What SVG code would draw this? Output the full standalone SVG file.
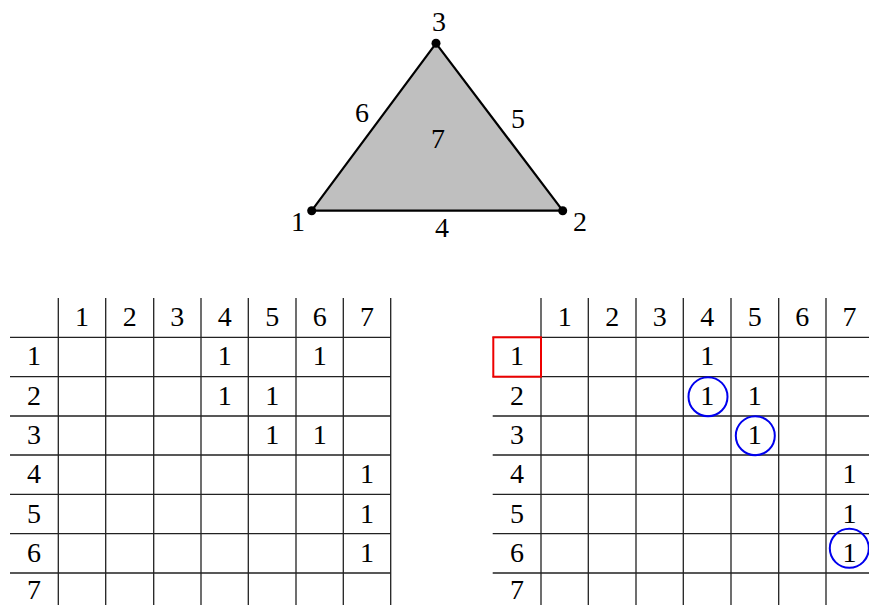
<svg xmlns="http://www.w3.org/2000/svg" width="869" height="605" viewBox="0 0 869 605">
<style>
text{font-family:"Liberation Serif","DejaVu Serif",serif;font-size:28px;fill:#000;text-anchor:middle}
.g{stroke:#222;stroke-width:1.3;fill:none}
.c{fill:none;stroke:#0000ee;stroke-width:2}
</style>
<rect width="869" height="605" fill="#fff"/>
<g id="triangle">
<polygon points="311.7,210.7 562.7,210.7 436,43.3" fill="#bfbfbf" stroke="#000" stroke-width="2.2" stroke-linejoin="round"/>
<circle cx="311.7" cy="210.7" r="4.5"/>
<circle cx="562.7" cy="210.7" r="4.5"/>
<circle cx="436" cy="43.3" r="4.5"/>
<text x="439" y="31">3</text>
<text x="298" y="231">1</text>
<text x="580" y="231">2</text>
<text x="442" y="237">4</text>
<text x="518" y="128">5</text>
<text x="362" y="122">6</text>
<text x="438" y="148">7</text>
</g>
<g id="table-left">
<g class="g">
<path d="M58.3 298V605M105.7 298V605M153.7 298V605M201 298V605M248.3 298V605M296 298V605M343.3 298V605M390.7 298V605"/>
<path d="M10 337.3H390.7M10 376.7H390.7M10 416H390.7M10 455H390.7M10 494.3H390.7M10 533.7H390.7M10 573H390.7"/>
</g>
<text x="82" y="326">1</text><text x="129.7" y="326">2</text><text x="177.3" y="326">3</text><text x="224.7" y="326">4</text><text x="272.2" y="326">5</text><text x="319.7" y="326">6</text><text x="367" y="326">7</text>
<text x="34" y="365">1</text><text x="34" y="404.5">2</text><text x="34" y="444">3</text><text x="34" y="483">4</text><text x="34" y="522.5">5</text><text x="34" y="562">6</text><text x="34" y="599">7</text>
<text x="224.7" y="365">1</text><text x="319.7" y="365">1</text>
<text x="224.7" y="404.5">1</text><text x="272.2" y="404.5">1</text>
<text x="272.2" y="444">1</text><text x="319.7" y="444">1</text>
<text x="367" y="483">1</text><text x="367" y="522.5">1</text><text x="367" y="562">1</text>
</g>
<g id="table-right">
<g class="g">
<path d="M541 298V605M588.3 298V605M636 298V605M683.3 298V605M731 298V605M778.7 298V605M826 298V605"/>
<path d="M492.7 337.3H869M492.7 376.7H869M492.7 416H869M492.7 455H869M492.7 494.3H869M492.7 533.7H869M492.7 573H869"/>
</g>
<text x="564.7" y="326">1</text><text x="612.2" y="326">2</text><text x="659.7" y="326">3</text><text x="707.2" y="326">4</text><text x="754.8" y="326">5</text><text x="802.3" y="326">6</text><text x="849.5" y="326">7</text>
<text x="517" y="365">1</text><text x="517" y="404.5">2</text><text x="517" y="444">3</text><text x="517" y="483">4</text><text x="517" y="522.5">5</text><text x="517" y="562">6</text><text x="517" y="599">7</text>
<text x="707.2" y="365">1</text>
<text x="707.2" y="404.5">1</text><text x="754.8" y="404.5">1</text>
<text x="754.8" y="444">1</text>
<text x="849.5" y="483">1</text><text x="849.5" y="522.5">1</text><text x="849.5" y="562">1</text>
<rect x="493.3" y="337.3" width="47.7" height="39.4" fill="none" stroke="#ee0000" stroke-width="2"/>
<circle class="c" cx="708" cy="396.7" r="19.5"/>
<circle class="c" cx="755.3" cy="435.7" r="19.5"/>
<circle class="c" cx="849.3" cy="548.3" r="19.5"/>
</g>
</svg>
